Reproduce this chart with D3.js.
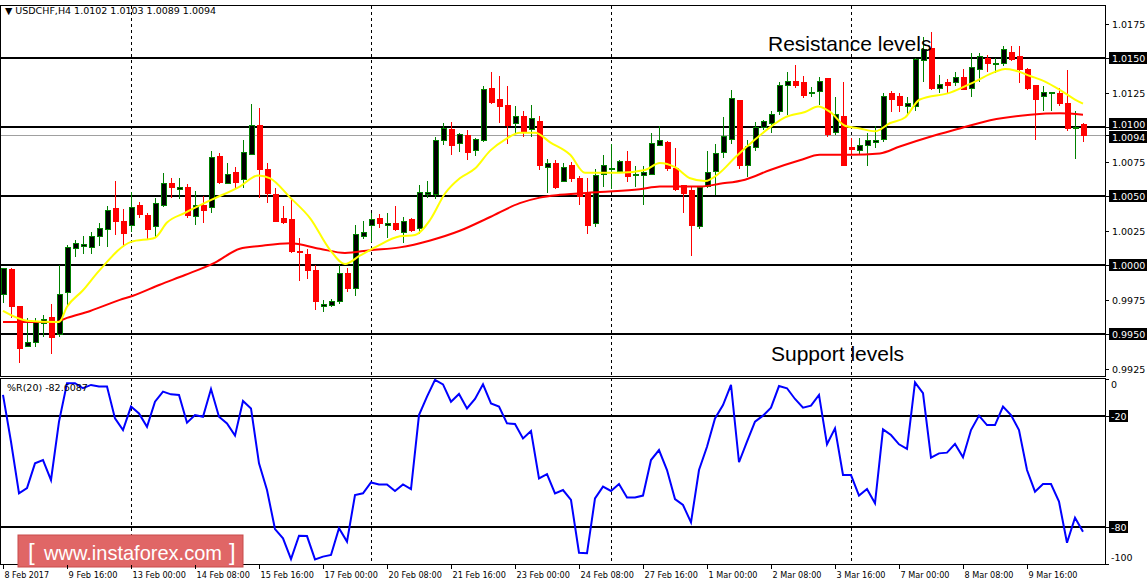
<!DOCTYPE html>
<html><head><meta charset="utf-8">
<script src="https://cdn.jsdelivr.net/npm/d3@7/dist/d3.min.js"></script>
<style>body{margin:0;background:#fff;}svg{display:block;font-family:Tahoma,"DejaVu Sans",sans-serif;}</style>
</head><body><svg id="c" width="1147" height="585"></svg>
<script>
// OHLC per H4 candle
const opens=[0.9979,0.9997,0.9970,0.9941,0.9944,0.9958,0.9962,0.9950,0.9980,1.0012,1.0014,1.0013,1.0021,1.0026,1.0041,1.0032,1.0029,1.0043,1.0036,1.0028,1.0043,1.0059,1.0055,1.0056,1.0035,1.0043,1.0042,1.0079,1.0059,1.0067,1.0062,1.0080,1.0101,1.0069,1.0051,1.0034,1.0033,1.0010,1.0008,0.9996,0.9970,0.9971,0.9974,0.9994,0.9983,1.0021,1.0029,1.0034,1.0029,1.0030,1.0024,1.0033,1.0027,1.0051,1.0051,1.0090,1.0098,1.0088,1.0094,1.0083,1.0090,1.0128,1.0120,1.0116,1.0103,1.0108,1.0098,1.0104,1.0071,1.0074,1.0061,1.0072,1.0063,1.0052,1.0030,1.0066,1.0069,1.0068,1.0075,1.0066,1.0065,1.0066,1.0087,1.0089,1.0070,1.0058,1.0054,1.0028,1.0057,1.0068,1.0082,1.0091,1.0119,1.0072,1.0085,1.0100,1.0103,1.0111,1.0130,1.0133,1.0132,1.0124,1.0126,1.0135,1.0096,1.0108,1.0085,1.0083,1.0087,1.0089,1.0091,1.0124,1.0122,1.0115,1.0115,1.0148,1.0157,1.0128,1.0132,1.0132,1.0136,1.0128,1.0142,1.0150,1.0145,1.0146,1.0154,1.0151,1.0142,1.0130,1.0122,1.0124,1.0124,1.0117,1.0099,1.0102];
const highs=[0.9998,0.9998,0.9970,0.9962,0.9962,0.9964,0.9972,1.0000,1.0015,1.0018,1.0021,1.0024,1.0031,1.0043,1.0061,1.0041,1.0053,1.0046,1.0038,1.0049,1.0067,1.0063,1.0063,1.0059,1.0054,1.0050,1.0083,1.0081,1.0074,1.0071,1.0091,1.0117,1.0114,1.0074,1.0056,1.0043,1.0048,1.0020,1.0012,1.0000,0.9975,0.9976,1.0000,0.9998,1.0029,1.0032,1.0038,1.0037,1.0038,1.0043,1.0035,1.0034,1.0058,1.0061,1.0093,1.0103,1.0104,1.0096,1.0098,1.0092,1.0130,1.0140,1.0137,1.0130,1.0115,1.0112,1.0116,1.0108,1.0077,1.0076,1.0074,1.0075,1.0065,1.0063,1.0070,1.0080,1.0088,1.0076,1.0083,1.0072,1.0072,1.0096,1.0101,1.0090,1.0085,1.0058,1.0057,1.0056,1.0083,1.0088,1.0107,1.0127,1.0120,1.0091,1.0104,1.0105,1.0112,1.0133,1.0140,1.0145,1.0137,1.0129,1.0136,1.0135,1.0122,1.0133,1.0092,1.0092,1.0096,1.0101,1.0125,1.0126,1.0125,1.0122,1.0150,1.0165,1.0169,1.0138,1.0135,1.0140,1.0142,1.0154,1.0154,1.0152,1.0150,1.0159,1.0159,1.0159,1.0143,1.0130,1.0130,1.0125,1.0128,1.0141,1.0112,1.0103];
const lows=[0.9973,0.9962,0.9929,0.9941,0.9941,0.9948,0.9936,0.9948,0.9970,1.0006,1.0008,1.0008,1.0014,1.0013,1.0022,1.0013,1.0024,1.0034,1.0018,1.0020,1.0042,1.0049,1.0048,1.0034,1.0029,1.0031,1.0038,1.0059,1.0059,1.0055,1.0056,1.0080,1.0049,1.0045,1.0032,1.0030,1.0009,0.9989,0.9990,0.9968,0.9966,0.9970,0.9972,0.9981,0.9978,1.0019,1.0017,1.0027,1.0020,1.0025,1.0016,1.0024,1.0023,1.0049,1.0048,1.0087,1.0080,1.0082,1.0076,1.0079,1.0089,1.0117,1.0103,1.0088,1.0096,1.0093,1.0093,1.0069,1.0052,1.0055,1.0060,1.0060,1.0044,1.0023,1.0028,1.0057,1.0055,1.0067,1.0060,1.0057,1.0044,1.0066,1.0086,1.0068,1.0054,1.0038,1.0007,1.0026,1.0056,1.0051,1.0078,1.0088,1.0070,1.0064,1.0083,1.0098,1.0096,1.0109,1.0109,1.0128,1.0121,1.0122,1.0116,1.0093,1.0094,1.0072,1.0080,1.0080,1.0072,1.0085,1.0089,1.0111,1.0111,1.0108,1.0112,1.0133,1.0127,1.0125,1.0124,1.0130,1.0127,1.0122,1.0133,1.0140,1.0139,1.0144,1.0148,1.0132,1.0127,1.0091,1.0112,1.0112,1.0115,1.0097,1.0077,1.0089];
const closes=[0.9998,0.9970,0.9940,0.9944,0.9959,0.9961,0.9948,0.9979,1.0013,1.0016,1.0015,1.0021,1.0027,1.0040,1.0032,1.0023,1.0042,1.0037,1.0026,1.0045,1.0059,1.0056,1.0056,1.0036,1.0043,1.0040,1.0078,1.0060,1.0066,1.0060,1.0082,1.0101,1.0069,1.0052,1.0032,1.0031,1.0010,1.0009,0.9996,0.9974,0.9972,0.9974,0.9994,0.9983,1.0022,1.0024,1.0033,1.0030,1.0030,1.0026,1.0032,1.0025,1.0053,1.0053,1.0090,1.0099,1.0087,1.0095,1.0082,1.0091,1.0127,1.0118,1.0115,1.0101,1.0108,1.0097,1.0106,1.0072,1.0074,1.0056,1.0071,1.0063,1.0050,1.0029,1.0065,1.0072,1.0070,1.0075,1.0064,1.0066,1.0067,1.0088,1.0090,1.0070,1.0055,1.0052,1.0029,1.0056,1.0067,1.0081,1.0093,1.0121,1.0072,1.0086,1.0100,1.0104,1.0109,1.0130,1.0133,1.0130,1.0123,1.0125,1.0133,1.0095,1.0109,1.0072,1.0084,1.0087,1.0090,1.0090,1.0122,1.0120,1.0116,1.0117,1.0149,1.0156,1.0128,1.0131,1.0130,1.0136,1.0127,1.0143,1.0151,1.0146,1.0146,1.0156,1.0149,1.0142,1.0128,1.0120,1.0125,1.0125,1.0117,1.0099,1.0100,1.0094];
// Fast MA (yellow) readings: [candle index, price]
const maFastIdx=[0,3,7,8,10,12,16,19,20.5,22.75,25.9,29.6,31.9,33.4,35.9,38.4,40.9,42.75,44.6,46.5,49.6,51.5,53.4,55.25,57.1,59,60.9,62.75,64.6,66.5,68.4,70.9,72.75,74.6,77.1,80.25,82.1,84,85.9,87.75,89.6,91.5,94,95.9,97.75,100.25,101.9,103.4,105.25,107.1,109,110.9,112.75,114.6,118.4,121.5,124,125.25,126.5,128.4,130.25,132.1,134,135];
const maFast=[0.9967,0.9960,0.9959,0.9970,0.9982,0.9996,1.0017,1.0020,1.0031,1.0038,1.0047,1.0057,1.0065,1.0063,1.0049,1.0034,1.0011,1.0001,1.0007,1.0013,1.0021,1.0022,1.0033,1.0052,1.0063,1.0070,1.0083,1.0091,1.0096,1.0096,1.0089,1.0080,1.0067,1.0067,1.0067,1.0069,1.0074,1.0071,1.0063,1.0061,1.0067,1.0078,1.0091,1.0100,1.0107,1.0111,1.0115,1.0111,1.0101,1.0099,1.0097,1.0103,1.0107,1.0120,1.0125,1.0133,1.0140,1.0142,1.0141,1.0137,1.0133,1.0127,1.0120,1.0117];
// Slow MA (red) readings
const maSlowIdx=[0,5,6.5,8,10.9,14.6,16.25,19.6,22.75,26.5,29.6,32.1,35.9,39.6,42.75,45.9,49.6,53.4,57.1,60.9,64.6,67.1,69.6,74.6,79.6,82.1,87.1,89.6,92.75,95.9,99.6,102.1,105.9,109.6,112.1,115.9,119.6,123.4,128.4,132.1,135];
const maSlow=[0.9959,0.9959,0.9959,0.9962,0.9967,0.9975,0.9978,0.9986,0.9993,1.0002,1.0012,1.0014,1.0016,1.0012,1.0009,1.0011,1.0013,1.0018,1.0025,1.0035,1.0045,1.0049,1.0051,1.0053,1.0055,1.0057,1.0057,1.0059,1.0062,1.0069,1.0076,1.0080,1.0080,1.0081,1.0086,1.0093,1.0099,1.0105,1.0109,1.0110,1.0109];
// Williams %R(20)
const wpr=[-8.6,-33.9,-61.8,-59,-45.6,-43.8,-54.6,-23,-2.3,-2.3,-5,-3.2,-4.1,-4.1,-21.3,-27.6,-14.9,-18.6,-25.8,-12.3,-6.8,-8.3,-8.6,-23.6,-19.5,-20.4,-5.4,-20.4,-24,-30.6,-11.9,-15.9,-45.6,-60,-81.1,-86.1,-97.3,-84.7,-84.9,-97.5,-96,-95.1,-80.7,-87.9,-62.7,-61.8,-55.9,-57,-57,-60.5,-57,-59.5,-19.5,-9.5,-0.5,-2.9,-12.3,-8.1,-15.9,-10.8,-2.9,-13.2,-14.9,-24,-24.3,-32.1,-28.1,-53.7,-51.4,-61.8,-60,-65.4,-93.9,-94.2,-64.5,-58.2,-60.5,-56.8,-64.1,-64,-63,-43.8,-38.4,-49.2,-64.9,-68.1,-77.5,-49.2,-36.6,-21.3,-14.1,-3.2,-45,-33.9,-23.1,-19.8,-15.5,-3.8,-5,-10.8,-15.5,-14.4,-8.6,-35.3,-26.7,-51.9,-51.9,-63,-59.5,-67.2,-27.2,-30.3,-35.3,-37.8,-1.8,-7.7,-42.5,-40.2,-39.8,-35.1,-42.3,-27.6,-19.8,-24.9,-24.9,-14.9,-19.5,-27.6,-49.2,-60.9,-56.8,-56.8,-66.3,-88.5,-75,-82.6];
const levels=[1.0150,1.0100,1.0050,1.0000,0.9950];
const priceTicks=[1.0175,1.0150,1.0125,1.0100,1.0094,1.0075,1.0050,1.0025,1.0000,0.9975,0.9950,0.9925];
const boxedTicks=[1.0150,1.0100,1.0094,1.0050,1.0000,0.9950];
const timeLabels=["8 Feb 2017","9 Feb 16:00","13 Feb 00:00","14 Feb 08:00","15 Feb 16:00","17 Feb 00:00","20 Feb 08:00","21 Feb 16:00","23 Feb 00:00","24 Feb 08:00","27 Feb 16:00","1 Mar 00:00","2 Mar 08:00","3 Mar 16:00","7 Mar 00:00","8 Mar 08:00","9 Mar 16:00"];
const dayBreaks=[16,46,76,106];
const wprTicks=[0,-20,-80,-100];

const svg=d3.select("#c");
const R=1105;
const x=d3.scaleLinear().domain([0,135]).range([3,1083]);
const y=d3.scaleLinear().domain([0.9925,1.0175]).range([369,23.5]);
const yw=d3.scaleLinear().domain([0,-100]).range([379,564]);
const g=svg.append("g").attr("shape-rendering","crispEdges");
g.append("rect").attr("x",0.5).attr("y",5.5).attr("width",R).attr("height",371).attr("fill","none").attr("stroke","#000");
g.append("rect").attr("x",0.5).attr("y",378.5).attr("width",R).attr("height",186).attr("fill","none").attr("stroke","#000");
dayBreaks.forEach(i=>{g.append("line").attr("x1",x(i)).attr("x2",x(i)).attr("y1",6).attr("y2",564).attr("stroke","#000").attr("stroke-dasharray","3,3");});
levels.forEach(l=>g.append("line").attr("x1",1).attr("x2",R).attr("y1",y(l)).attr("y2",y(l)).attr("stroke","#000").attr("stroke-width",2));
g.append("line").attr("x1",1).attr("x2",R).attr("y1",Math.round(y(1.0094))+0.5).attr("y2",Math.round(y(1.0094))+0.5).attr("stroke","#a0a0a0");
const idx=d3.range(opens.length);
const cg=svg.append("g").attr("shape-rendering","crispEdges");
idx.forEach(i=>{
  const up=closes[i]>=opens[i];
  const col=up?"#008000":"#ff0000";
  const cx=Math.round(x(i))+0.5;
  cg.append("line").attr("x1",cx).attr("x2",cx).attr("y1",y(highs[i])).attr("y2",y(lows[i])).attr("stroke",col);
  const t=y(Math.max(opens[i],closes[i])), b=y(Math.min(opens[i],closes[i]));
  cg.append("rect").attr("x",cx-2.5).attr("y",t).attr("width",5).attr("height",Math.max(1,b-t))
    .attr("fill",up?"#000":"#ff0000").attr("stroke",up?"#008000":"#ff0000");
});
const line=d3.line().x(d=>x(d[0])).y(d=>y(d[1])).curve(d3.curveMonotoneX);
svg.append("path").attr("d",line(maSlowIdx.map((v,k)=>[v,maSlow[k]]))).attr("fill","none").attr("stroke","#ff0000").attr("stroke-width",2);
svg.append("path").attr("d",line(maFastIdx.map((v,k)=>[v,maFast[k]]))).attr("fill","none").attr("stroke","#ffff00").attr("stroke-width",2);
[-20,-80].forEach(v=>g.append("line").attr("x1",1).attr("x2",R).attr("y1",yw(v)).attr("y2",yw(v)).attr("stroke","#000").attr("stroke-width",2));
svg.append("path").attr("d",d3.line().x((d,i)=>x(i)).y(d=>yw(d))(wpr)).attr("fill","none").attr("stroke","#0000ff").attr("stroke-width",2);
svg.append("rect").attr("x",18).attr("y",535).attr("width",225).attr("height",32).attr("fill","#e06666").attr("stroke","#c84a4a");
const wm=svg.append("g").attr("fill","#fff").attr("font-family","Arial,Liberation Sans,sans-serif");
wm.append("text").attr("x",28).attr("y",560).attr("font-size",24).text("[");
wm.append("text").attr("x",44).attr("y",560).attr("font-size",21).attr("textLength",178).attr("lengthAdjust","spacingAndGlyphs").text("www.instaforex.com");
wm.append("text").attr("x",229).attr("y",560).attr("font-size",24).text("]");
const ax=svg.append("g");
const labelShift={"1.0100":-3,"1.0094":2};
priceTicks.forEach(p=>{
  const yy=Math.round(y(p));
  const ly=yy+(labelShift[p.toFixed(4)]||0);
  ax.append("line").attr("x1",R).attr("x2",R+4).attr("y1",yy+0.5).attr("y2",yy+0.5).attr("stroke","#000");
  if(boxedTicks.includes(p)) ax.append("rect").attr("x",R+4).attr("y",ly-6).attr("width",38).attr("height",12).attr("fill","#000");
  ax.append("text").attr("x",R+7).attr("y",ly+4).attr("font-size",9.5).attr("fill",boxedTicks.includes(p)?"#fff":"#000").text(p.toFixed(4));
});
wprTicks.forEach(v=>{
  const yy=Math.round(yw(v)); const boxed=(v===-20||v===-80);
  const ty=v===0?yy+9:(v===-100?yy-3:yy+4);
  ax.append("line").attr("x1",R).attr("x2",R+4).attr("y1",yy+0.5).attr("y2",yy+0.5).attr("stroke","#000");
  if(boxed) ax.append("rect").attr("x",R+4).attr("y",yy-6).attr("width",19).attr("height",12).attr("fill","#000");
  ax.append("text").attr("x",R+6).attr("y",ty).attr("font-size",9.5).attr("fill",boxed?"#fff":"#000").text(v);
});
timeLabels.forEach((t,k)=>{
  const xx=Math.round(x(k*8))+0.5;
  ax.append("line").attr("x1",xx).attr("x2",xx).attr("y1",565).attr("y2",569).attr("stroke","#000");
  ax.append("text").attr("x",xx+1).attr("y",578).attr("font-size",9.5).attr("textLength",t.length*4.45).attr("lengthAdjust","spacingAndGlyphs").text(t);
});
svg.append("text").attr("x",5).attr("y",14).attr("font-size",9.5).text("▼ USDCHF,H4  1.0102 1.0103 1.0089 1.0094");
svg.append("text").attr("x",7).attr("y",391).attr("font-size",9.5).text("%R(20) -82.6087");
svg.append("text").attr("x",768).attr("y",51).attr("font-size",21).attr("font-family","Arial,Liberation Sans,sans-serif").text("Resistance levels");
svg.append("text").attr("x",771).attr("y",361).attr("font-size",21).attr("font-family","Arial,Liberation Sans,sans-serif").text("Support levels");
</script></body></html>
